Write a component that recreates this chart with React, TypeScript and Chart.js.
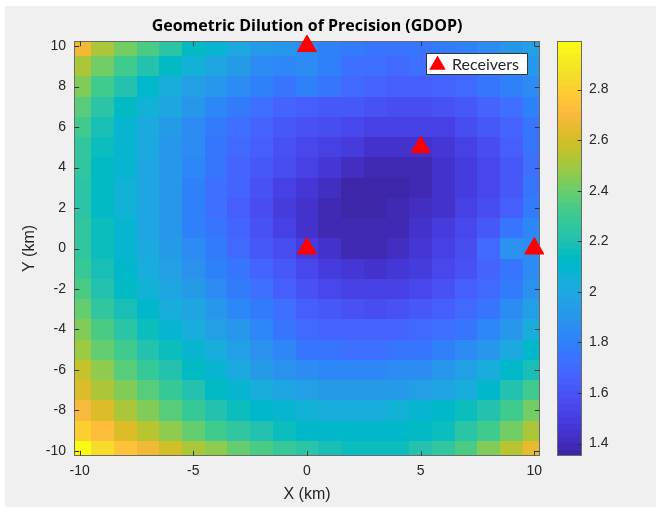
import React, { useEffect, useRef } from "react";
import { Chart, registerables } from "chart.js";

Chart.register(...registerables);

// ---------- data ----------
const TITLE = "Geometric Dilution of Precision (GDOP)";
const X_LABEL = "X (km)";
const Y_LABEL = "Y (km)";
const SERIES_LABEL = "Receivers";

const X_VALUES = [-10, -9, -8, -7, -6, -5, -4, -3, -2, -1, 0, 1, 2, 3, 4, 5, 6, 7, 8, 9, 10];
const Y_VALUES = [10, 9, 8, 7, 6, 5, 4, 3, 2, 1, 0, -1, -2, -3, -4, -5, -6, -7, -8, -9, -10];

const GDOP_Y_P10 = [2.66, 2.53, 2.42, 2.33, 2.23, 2.14, 2.07, 2.0, 1.94, 1.89, 1.86, 1.81, 1.77, 1.75, 1.74, 1.75, 1.77, 1.8, 1.84, 1.89, 1.96];
const GDOP_Y_P9 = [2.53, 2.41, 2.31, 2.22, 2.13, 2.05, 1.99, 1.92, 1.86, 1.82, 1.86, 1.79, 1.73, 1.71, 1.7, 1.71, 1.73, 1.76, 1.8, 1.85, 1.9];
const GDOP_Y_P8 = [2.43, 2.31, 2.2, 2.11, 2.03, 1.96, 1.9, 1.84, 1.79, 1.75, 1.79, 1.75, 1.69, 1.66, 1.65, 1.65, 1.67, 1.7, 1.75, 1.8, 1.85];
const GDOP_Y_P7 = [2.36, 2.24, 2.14, 2.05, 1.97, 1.9, 1.83, 1.77, 1.72, 1.68, 1.65, 1.63, 1.61, 1.59, 1.58, 1.58, 1.6, 1.63, 1.68, 1.73, 1.8];
const GDOP_Y_P6 = [2.3, 2.18, 2.09, 2.0, 1.92, 1.85, 1.78, 1.72, 1.67, 1.62, 1.59, 1.56, 1.54, 1.52, 1.51, 1.51, 1.53, 1.56, 1.61, 1.67, 1.76];
const GDOP_Y_P5 = [2.27, 2.16, 2.08, 2.0, 1.91, 1.84, 1.76, 1.7, 1.64, 1.59, 1.55, 1.51, 1.48, 1.45, 1.44, 1.45, 1.47, 1.51, 1.57, 1.64, 1.74];
const GDOP_Y_P4 = [2.25, 2.14, 2.07, 1.99, 1.9, 1.82, 1.75, 1.68, 1.62, 1.56, 1.51, 1.46, 1.42, 1.39, 1.39, 1.4, 1.44, 1.49, 1.55, 1.62, 1.73];
const GDOP_Y_P3 = [2.24, 2.13, 2.06, 1.98, 1.89, 1.81, 1.73, 1.66, 1.6, 1.53, 1.47, 1.41, 1.37, 1.351, 1.36, 1.39, 1.43, 1.49, 1.55, 1.63, 1.74];
const GDOP_Y_P2 = [2.24, 2.13, 2.06, 1.98, 1.89, 1.8, 1.72, 1.65, 1.58, 1.5, 1.44, 1.39, 1.36, 1.36, 1.38, 1.41, 1.45, 1.51, 1.57, 1.65, 1.77];
const GDOP_Y_P1 = [2.25, 2.15, 2.07, 1.99, 1.9, 1.81, 1.74, 1.67, 1.6, 1.52, 1.45, 1.4, 1.38, 1.38, 1.4, 1.43, 1.48, 1.55, 1.63, 1.74, 1.82];
const GDOP_Y_0 = [2.26, 2.17, 2.09, 2.01, 1.92, 1.84, 1.77, 1.7, 1.63, 1.56, 1.49, 1.43, 1.4, 1.4, 1.42, 1.46, 1.51, 1.58, 1.7, 1.88, 1.84];
const GDOP_Y_M1 = [2.29, 2.19, 2.11, 2.04, 1.95, 1.88, 1.81, 1.74, 1.67, 1.61, 1.55, 1.49, 1.46, 1.45, 1.47, 1.5, 1.54, 1.6, 1.67, 1.76, 1.85];
const GDOP_Y_M2 = [2.33, 2.22, 2.13, 2.06, 1.99, 1.92, 1.85, 1.78, 1.71, 1.65, 1.59, 1.55, 1.52, 1.51, 1.52, 1.55, 1.59, 1.64, 1.7, 1.78, 1.87];
const GDOP_Y_M3 = [2.38, 2.27, 2.18, 2.1, 2.04, 1.97, 1.9, 1.83, 1.77, 1.71, 1.65, 1.61, 1.59, 1.58, 1.59, 1.61, 1.65, 1.7, 1.76, 1.84, 1.95];
const GDOP_Y_M4 = [2.44, 2.33, 2.24, 2.16, 2.09, 2.03, 1.96, 1.89, 1.82, 1.76, 1.7, 1.67, 1.66, 1.66, 1.67, 1.69, 1.72, 1.76, 1.82, 1.91, 2.03];
const GDOP_Y_M5 = [2.5, 2.39, 2.3, 2.22, 2.15, 2.08, 2.02, 1.95, 1.88, 1.82, 1.76, 1.74, 1.73, 1.73, 1.74, 1.76, 1.79, 1.84, 1.91, 2.0, 2.1];
const GDOP_Y_M6 = [2.56, 2.46, 2.37, 2.28, 2.2, 2.13, 2.07, 2.0, 1.93, 1.87, 1.84, 1.83, 1.83, 1.83, 1.84, 1.86, 1.9, 1.95, 2.02, 2.1, 2.18];
const GDOP_Y_M7 = [2.63, 2.53, 2.45, 2.37, 2.29, 2.21, 2.14, 2.08, 2.02, 1.98, 1.95, 1.93, 1.92, 1.92, 1.93, 1.95, 1.98, 2.03, 2.1, 2.2, 2.3];
const GDOP_Y_M8 = [2.7, 2.61, 2.53, 2.45, 2.37, 2.29, 2.22, 2.16, 2.11, 2.08, 2.06, 2.04, 2.04, 2.04, 2.05, 2.07, 2.1, 2.15, 2.22, 2.31, 2.42];
const GDOP_Y_M9 = [2.8, 2.71, 2.63, 2.55, 2.47, 2.39, 2.32, 2.26, 2.21, 2.16, 2.12, 2.1, 2.1, 2.1, 2.11, 2.13, 2.17, 2.23, 2.31, 2.42, 2.53];
const GDOP_Y_M10 = [2.992, 2.84, 2.75, 2.67, 2.59, 2.52, 2.46, 2.4, 2.34, 2.28, 2.23, 2.19, 2.17, 2.16, 2.17, 2.2, 2.26, 2.34, 2.44, 2.55, 2.64];

const GDOP_ROWS = [
  GDOP_Y_P10, GDOP_Y_P9, GDOP_Y_P8, GDOP_Y_P7, GDOP_Y_P6, GDOP_Y_P5, GDOP_Y_P4,
  GDOP_Y_P3, GDOP_Y_P2, GDOP_Y_P1, GDOP_Y_0, GDOP_Y_M1, GDOP_Y_M2, GDOP_Y_M3,
  GDOP_Y_M4, GDOP_Y_M5, GDOP_Y_M6, GDOP_Y_M7, GDOP_Y_M8, GDOP_Y_M9, GDOP_Y_M10,
];

const RECEIVERS_X = [0, 5, 10, 0];
const RECEIVERS_Y = [0, 5, 0, 10];

const X_TICKS = [-10, -5, 0, 5, 10];
const Y_TICKS = [-10, -8, -6, -4, -2, 0, 2, 4, 6, 8, 10];
const CB_TICKS = [1.4, 1.6, 1.8, 2, 2.2, 2.4, 2.6, 2.8];
const CB_MIN = 1.351;
const CB_MAX = 2.992;
const AXIS_MIN = -10.25;
const AXIS_MAX = 10.25;

// parula colormap (64 entries)
const PARULA: number[][] = [
  [0.2422, 0.1504, 0.6603], [0.2504, 0.165, 0.7076], [0.2578, 0.1818, 0.7511], [0.2647, 0.1978, 0.7952],
  [0.2706, 0.2147, 0.8364], [0.2751, 0.2342, 0.871], [0.2783, 0.2559, 0.8991], [0.2803, 0.2782, 0.9221],
  [0.2813, 0.3006, 0.9414], [0.281, 0.3228, 0.9579], [0.2795, 0.3447, 0.9717], [0.276, 0.3667, 0.9829],
  [0.2699, 0.3892, 0.9906], [0.2602, 0.4123, 0.9952], [0.244, 0.4358, 0.9988], [0.2206, 0.4603, 0.9973],
  [0.1963, 0.4847, 0.9892], [0.1834, 0.5074, 0.9798], [0.1786, 0.5289, 0.9682], [0.1764, 0.5499, 0.952],
  [0.1687, 0.5703, 0.9359], [0.154, 0.5902, 0.9218], [0.146, 0.6091, 0.9079], [0.138, 0.6276, 0.8973],
  [0.1248, 0.6459, 0.8883], [0.1113, 0.6635, 0.8763], [0.0952, 0.6798, 0.8598], [0.0689, 0.6948, 0.8394],
  [0.0297, 0.7082, 0.8163], [0.0036, 0.7203, 0.7917], [0.0067, 0.7312, 0.766], [0.0433, 0.7411, 0.7394],
  [0.0964, 0.75, 0.712], [0.1408, 0.7584, 0.6842], [0.1717, 0.767, 0.6554], [0.1938, 0.7758, 0.6251],
  [0.2161, 0.7843, 0.5923], [0.247, 0.7918, 0.5567], [0.2906, 0.7973, 0.5188], [0.3406, 0.8008, 0.4789],
  [0.3909, 0.8029, 0.4354], [0.4456, 0.8024, 0.3909], [0.5044, 0.7993, 0.348], [0.5616, 0.7942, 0.3045],
  [0.6174, 0.7876, 0.2612], [0.672, 0.7793, 0.2227], [0.7242, 0.7698, 0.191], [0.7738, 0.7598, 0.1646],
  [0.8203, 0.7498, 0.1535], [0.8634, 0.7406, 0.1596], [0.9035, 0.733, 0.1774], [0.9393, 0.7288, 0.21],
  [0.9728, 0.7298, 0.2394], [0.9956, 0.7434, 0.2371], [0.997, 0.7659, 0.2199], [0.9952, 0.7893, 0.2028],
  [0.9892, 0.8136, 0.1885], [0.9786, 0.8386, 0.1766], [0.9676, 0.8639, 0.1643], [0.961, 0.889, 0.1537],
  [0.9597, 0.9135, 0.1423], [0.9628, 0.9373, 0.1265], [0.9691, 0.9606, 0.1064], [0.9769, 0.9839, 0.0805],
];

const SANS = "'Liberation Sans', Arial, Helvetica, sans-serif";
const TEXT_COLOR = "#262626";
const BOX_COLOR = "#6a6a6a";
const TICK_LEN = 4.7;

function parulaColor(k: number): string {
  const c = PARULA[Math.max(0, Math.min(PARULA.length - 1, k))];
  return `rgb(${Math.round(c[0] * 255)},${Math.round(c[1] * 255)},${Math.round(c[2] * 255)})`;
}

function colorFor(v: number): string {
  const k = Math.floor(((v - CB_MIN) / (CB_MAX - CB_MIN)) * PARULA.length);
  return parulaColor(k);
}

function zeroPadding(s: any) {
  s.paddingTop = 0;
  s.paddingBottom = 0;
  s.paddingLeft = 0;
  s.paddingRight = 0;
}

const backgroundPlugin = {
  id: "figureBackground",
  beforeDraw(chart: any) {
    const { ctx, width, height } = chart;
    ctx.save();
    ctx.fillStyle = "#f0f0f0";
    ctx.fillRect(0, 0, width, height);
    ctx.restore();
  },
};

const heatmapPlugin = {
  id: "heatmapCells",
  beforeDatasetsDraw(chart: any) {
    const { ctx, chartArea: a } = chart;
    const xs = chart.scales.x;
    const ys = chart.scales.y;
    const cb = chart.scales.cb;

    // cells
    ctx.save();
    ctx.beginPath();
    ctx.rect(a.left, a.top, a.right - a.left, a.bottom - a.top);
    ctx.clip();
    GDOP_ROWS.forEach((row, r) => {
      const yv = Y_VALUES[r];
      const top = Math.round(ys.getPixelForValue(yv + 0.5));
      const bot = Math.round(ys.getPixelForValue(yv - 0.5));
      row.forEach((v, c) => {
        const xv = X_VALUES[c];
        const l = Math.round(xs.getPixelForValue(xv - 0.5));
        const rr = Math.round(xs.getPixelForValue(xv + 0.5));
        ctx.fillStyle = colorFor(v);
        ctx.fillRect(l, top, rr - l, bot - top);
      });
    });
    ctx.restore();

    // axes box
    const L = Math.round(a.left) + 0.5;
    const R = Math.round(a.right) - 0.5;
    const T = Math.round(a.top) + 0.5;
    const B = Math.round(a.bottom) - 0.5;
    ctx.save();
    ctx.lineWidth = 1;
    ctx.strokeStyle = BOX_COLOR;
    ctx.strokeRect(L, T, R - L, B - T);

    // inward tick marks on all four sides
    ctx.strokeStyle = "#333333";
    ctx.beginPath();
    X_TICKS.forEach((t) => {
      const px = Math.round(xs.getPixelForValue(t)) + 0.5;
      ctx.moveTo(px, B);
      ctx.lineTo(px, B - TICK_LEN);
      ctx.moveTo(px, T);
      ctx.lineTo(px, T + TICK_LEN);
    });
    Y_TICKS.forEach((t) => {
      const py = Math.round(ys.getPixelForValue(t)) + 0.5;
      ctx.moveTo(L, py);
      ctx.lineTo(L + TICK_LEN, py);
      ctx.moveTo(R, py);
      ctx.lineTo(R - TICK_LEN, py);
    });
    ctx.stroke();

    // colorbar
    const cbL = Math.round(a.right) + 17;
    const cbR = Math.round(a.right) + 42;
    const n = PARULA.length;
    for (let k = 0; k < n; k++) {
      const v0 = CB_MIN + ((CB_MAX - CB_MIN) * k) / n;
      const v1 = CB_MIN + ((CB_MAX - CB_MIN) * (k + 1)) / n;
      const y0 = Math.round(cb.getPixelForValue(v1));
      const y1 = Math.round(cb.getPixelForValue(v0));
      ctx.fillStyle = parulaColor(k);
      ctx.fillRect(cbL, y0, cbR - cbL, y1 - y0);
    }
    const cT = Math.round(cb.getPixelForValue(CB_MAX)) + 0.5;
    const cB = Math.round(cb.getPixelForValue(CB_MIN)) - 0.5;
    ctx.strokeStyle = BOX_COLOR;
    ctx.strokeRect(cbL + 0.5, cT, cbR - cbL - 1, cB - cT);
    ctx.strokeStyle = "#333333";
    ctx.beginPath();
    CB_TICKS.forEach((t) => {
      const py = Math.round(cb.getPixelForValue(t)) + 0.5;
      ctx.moveTo(cbR - 0.5, py);
      ctx.lineTo(cbR - 0.5 - 3.8, py);
    });
    ctx.stroke();
    ctx.restore();
  },
  afterDatasetsDraw(chart: any) {
    const { ctx, chartArea: a } = chart;
    const label = chart.data.datasets[0].label;
    const w = 102;
    const h = 22;
    const left = Math.round(a.right) - 12 - w;
    const top = Math.round(a.top) + 12;
    ctx.save();
    ctx.fillStyle = "#ffffff";
    ctx.fillRect(left, top, w, h);
    ctx.strokeStyle = "#333333";
    ctx.lineWidth = 1;
    ctx.strokeRect(left + 0.5, top + 0.5, w - 1, h - 1);
    // triangle marker (same style as the dataset points)
    ctx.fillStyle = "#ff0000";
    const cx = left + 11.5;
    const cy = top + 12;
    const r = 9.5;
    ctx.beginPath();
    ctx.moveTo(cx, cy - r);
    ctx.lineTo(cx + r * Math.sin((2 * Math.PI) / 3), cy - r * Math.cos((2 * Math.PI) / 3));
    ctx.lineTo(cx + r * Math.sin((4 * Math.PI) / 3), cy - r * Math.cos((4 * Math.PI) / 3));
    ctx.closePath();
    ctx.fill();
    ctx.fillStyle = TEXT_COLOR;
    ctx.font = "16px Lato, 'Noto Sans', sans-serif";
    ctx.textBaseline = "middle";
    ctx.textAlign = "left";
    ctx.fillText(label, left + 26, top + h / 2 + 0.5);
    ctx.restore();
  },
};

export default function App() {
  const canvasRef = useRef<HTMLCanvasElement | null>(null);

  useEffect(() => {
    const canvas = canvasRef.current;
    if (!canvas) return;
    const chart = new Chart(canvas, {
      type: "scatter",
      data: {
        datasets: [
          {
            label: SERIES_LABEL,
            data: RECEIVERS_X.map((x, i) => ({ x, y: RECEIVERS_Y[i] })),
            pointStyle: "triangle",
            pointRadius: 11,
            pointHoverRadius: 11,
            backgroundColor: "#ff0000",
            borderColor: "#ff0000",
            borderWidth: 1,
            clip: false as any,
          },
        ],
      },
      options: {
        responsive: false,
        animation: false,
        events: [],
        devicePixelRatio: 1,
        layout: { padding: 0 },
        plugins: {
          legend: { display: false },
          tooltip: { enabled: false },
          title: {
            display: true,
            text: TITLE,
            fullSize: false,
            color: "#000000",
            font: { family: "'Open Sans', Lato, sans-serif", size: 16, weight: "bold" },
            padding: { top: 11, bottom: 4.8 },
          },
        },
        scales: {
          x: {
            type: "linear",
            min: AXIS_MIN,
            max: AXIS_MAX,
            afterBuildTicks: (s: any) => {
              s.ticks = X_TICKS.map((v) => ({ value: v }));
            },
            afterFit: (s: any) => {
              s.height = 51;
              zeroPadding(s);
            },
            ticks: {
              autoSkip: false,
              maxRotation: 0,
              padding: 6.6,
              color: TEXT_COLOR,
              font: { family: SANS, size: 14 },
              callback: (v: any) => String(v),
            },
            grid: { display: false, drawTicks: false },
            border: { display: false },
            title: {
              display: true,
              text: X_LABEL,
              color: TEXT_COLOR,
              font: { family: SANS, size: 16 },
              padding: { top: 0, bottom: 2.4 },
            },
          },
          y: {
            type: "linear",
            min: AXIS_MIN,
            max: AXIS_MAX,
            afterBuildTicks: (s: any) => {
              s.ticks = Y_TICKS.map((v) => ({ value: v }));
            },
            afterFit: (s: any) => {
              s.width = 69;
              zeroPadding(s);
            },
            ticks: {
              autoSkip: false,
              padding: 8,
              color: TEXT_COLOR,
              font: { family: SANS, size: 14 },
              callback: (v: any) => String(v),
            },
            grid: { display: false, drawTicks: false },
            border: { display: false },
            title: {
              display: true,
              text: Y_LABEL,
              color: TEXT_COLOR,
              font: { family: SANS, size: 16 },
              padding: { top: 15.4, bottom: 0 },
            },
          },
          cb: {
            type: "linear",
            position: "right",
            min: CB_MIN,
            max: CB_MAX,
            afterBuildTicks: (s: any) => {
              s.ticks = CB_TICKS.map((v) => ({ value: v }));
            },
            afterFit: (s: any) => {
              s.width = 116;
              zeroPadding(s);
            },
            ticks: {
              autoSkip: false,
              padding: 4,
              color: TEXT_COLOR,
              font: { family: SANS, size: 14 },
              callback: (v: any) => String(v),
            },
            grid: { display: false, drawTicks: true, tickLength: 45 },
            border: { display: false },
          },
        },
      } as any,
      plugins: [backgroundPlugin, heatmapPlugin],
    });
    return () => chart.destroy();
  }, []);

  return (
    <div style={{ position: "absolute", left: 5, top: 6, width: 651, height: 501 }}>
      <canvas
        ref={canvasRef}
        width={651}
        height={501}
        style={{ display: "block", width: 651, height: 501 }}
      />
    </div>
  );
}
